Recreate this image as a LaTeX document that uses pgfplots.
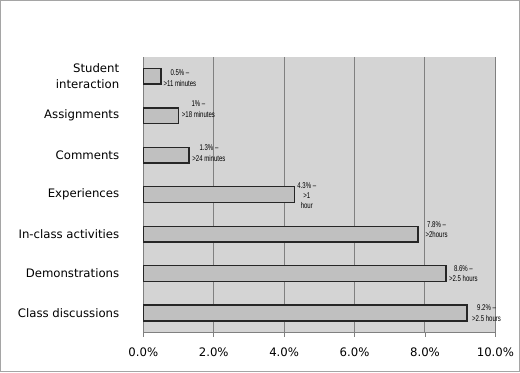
\documentclass[border=0pt]{standalone}
\usepackage{pgfplots}
\usepackage{pgfplotstable}
\pgfplotsset{compat=1.18}
\usepackage{fontspec}
\setmainfont{DejaVu Sans}
\newfontfamily\narrowfont[FakeStretch=0.72, Ligatures=TeX]{Liberation Sans}
\definecolor{plotbg}{RGB}{212,212,212}
\definecolor{barfill}{RGB}{192,192,192}
\definecolor{gridgray}{RGB}{128,128,128}
\definecolor{framegray}{RGB}{165,165,165}

% share of time by activity; dx/dy nudge each value label (pt)
\pgfplotstableread[col sep=comma]{
v,c,dx,dy,lab
9.2,0,3.2,0,{9.2\% –\\>2.5 hours}
8.6,1,1.7,0,{8.6\% –\\>2.5 hours}
7.8,2,5.2,3.4,{7.8\% –\\>2hours}
4.3,3,1.5,-0.75,{4.3\% –\\>1\\hour}
1.3,4,2,1.5,{1.3\% –\\>24 minutes}
1.0,5,2,4.9,{1\% –\\>18 minutes}
0.5,6,1.5,-1.3,{0.5\% –\\>11 minutes}
}\bardata

\begin{document}
\begin{tikzpicture}
\fontsize{8.8pt}{12pt}\selectfont
% outer chart frame
\draw[framegray, line width=1pt] (-107.25pt,-29.25pt) rectangle (282.75pt,249.75pt);
\begin{axis}[
  at={(0pt,0pt)}, anchor=south west,
  scale only axis,
  width=264.75pt, height=207.75pt,
  xbar, bar width=0.4,
  xmin=0, xmax=10,
  ymin=-0.5, ymax=6.5,
  axis background/.style={fill=plotbg},
  axis line style={gridgray, line width=0.6pt},
  axis x line*=bottom, axis y line*=left,
  xtick={0,2,...,10},
  xticklabels={0.0\%,2.0\%,4.0\%,6.0\%,8.0\%,10.0\%},
  xmajorgrids, major grid style={gridgray, line width=0.75pt},
  tick align=outside,
  major tick length=3pt,
  tick style={gridgray, line width=0.6pt},
  xticklabel style={yshift=-5.5pt, font=\fontsize{8.8pt}{10pt}\selectfont},
  ytick={0,...,6},
  yticklabels={Class discussions,Demonstrations,In-class activities,Experiences,Comments,Assignments,{Student\\interaction}},
  yticklabel style={align=right, xshift=-12pt, font=\fontsize{8.8pt}{12pt}\selectfont},
  y tick style={draw=none},
  extra y ticks={-0.5,0.5,1.5,2.5,3.5,4.5,5.5,6.5},
  extra y tick labels={},
  extra y tick style={tick style={draw=gridgray, line width=0.6pt}, major tick length=3pt, grid=none},
  point meta=explicit symbolic,
  visualization depends on={\thisrow{dx} \as \dx},
  visualization depends on={\thisrow{dy} \as \dy},
  nodes near coords,
  nodes near coords style={anchor=west, align=center,
    xshift={\dx pt-1pt}, yshift={\dy pt},
    font=\narrowfont\fontsize{6.3pt}{7.8pt}\selectfont, text=black, inner sep=1pt},
  clip=false,
]
\addplot[fill=barfill, draw=black!85, line width=1.1pt]
  table[x=v, y=c, meta=lab] {\bardata};
\end{axis}
\end{tikzpicture}
\end{document}
